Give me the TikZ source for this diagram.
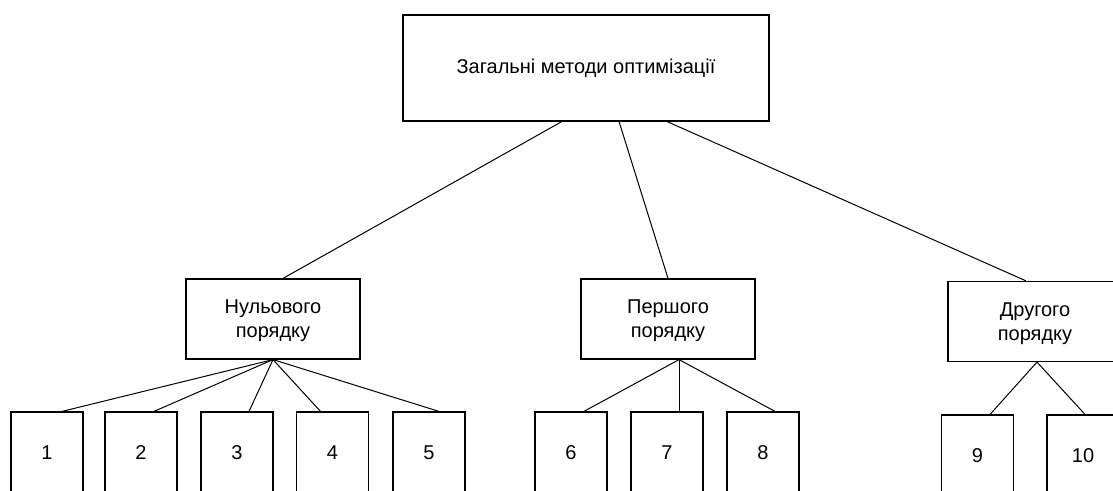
\documentclass[tikz,border=0pt]{standalone}
\usepackage{fontspec}
\setmainfont{Liberation Sans}
\usetikzlibrary{calc}

\begin{document}
\begin{tikzpicture}[x=0.75pt,y=-0.75pt]
  \tikzstyle{method} = [draw, line width=0.9pt, rectangle, inner sep=0pt, align=center, font={\fontsize{15}{18}\selectfont}]
  \tikzstyle{group} = [method, text depth=0pt, minimum width=130.5pt, minimum height=60pt]
  \tikzstyle{leaf} = [method, minimum width=54pt, minimum height=61.5pt]
  \tikzstyle{link} = [line width=0.75pt];
  \clip (0,0) rectangle (1113,491);
  \node[method, name=top, minimum width=274.5pt, minimum height=79.5pt] at (586,68) {Загальні методи оптимізації};
  \node[group, name=zero] at (273,319) {Нульового\\порядку};
  \node[group, name=first] at (668,319) {Першого\\порядку};
  \node[group, name=second] at (1035,321.5) {Другого\\порядку};
  \node[leaf, name=m1] at (47,453) {1};
  \node[leaf, name=m2] at (141,453) {2};
  \node[leaf, name=m3] at (237,453) {3};
  \node[leaf, name=m4] at (332.5,453) {4};
  \node[leaf, name=m5] at (429,453) {5};
  \node[leaf, name=m6] at (571,453) {6};
  \node[leaf, name=m7] at (667,453) {7};
  \node[leaf, name=m8] at (763,453) {8};
  \node[leaf, name=m9] at (977.5,456) {9};
  \node[leaf, name=m10] at (1083,456) {10};

  \draw ($(top.south west)!0.434!(top.south east)$)
      edge[link] ([xshift=7.5pt]zero.north);
  \draw ($(top.south west)!0.59!(top.south east)$)
      edge[link] (first.north);
  \draw ($(top.south west)!0.721!(top.south east)$)
      edge[link] ([xshift=-6.75pt]second.north);

  \draw (zero.south) edge[link] ([xshift=11.25pt]m1.north);
  \draw (zero.south) edge[link] ([xshift=9.75pt]m2.north);
  \draw (zero.south) edge[link] ([xshift=9pt]m3.north);
  \draw (zero.south) edge[link] ([xshift=-9pt]m4.north);
  \draw (zero.south) edge[link] ([xshift=7.5pt]m5.north);

  \draw ([xshift=8.25pt]first.south) edge[link] ([xshift=9.75pt]m6.north);
  \draw ([xshift=8.25pt]first.south) edge[link] ([xshift=9pt]m7.north);
  \draw ([xshift=8.25pt]first.south) edge[link] ([xshift=9pt]m8.north);

  \draw ([xshift=1.5pt]second.south) edge[link] ([xshift=9.4pt]m9.north);
  \draw ([xshift=1.5pt]second.south) edge[link] ([xshift=1.5pt]m10.north);
\end{tikzpicture}
\end{document}
